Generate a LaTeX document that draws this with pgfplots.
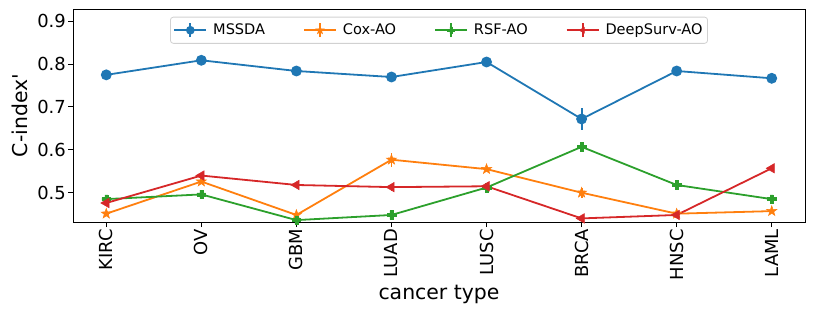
\documentclass[border=0pt]{standalone}
\usepackage{fontspec}
\setmainfont{DejaVu Sans}
\newfontfamily\plainfont{DejaVu Sans}
\usepackage{pgfplots}
\pgfplotsset{compat=1.18}
\definecolor{c0}{HTML}{1F77B4}
\definecolor{c1}{HTML}{FF7F0E}
\definecolor{c2}{HTML}{2CA02C}
\definecolor{c3}{HTML}{D62728}
\pgfdeclareplotmark{fstar}{%
  \pgfpathmoveto{\pgfpointpolar{90}{1.25\pgfplotmarksize}}%
  \pgfpathlineto{\pgfpointpolar{126}{0.5\pgfplotmarksize}}%
  \pgfpathlineto{\pgfpointpolar{162}{1.25\pgfplotmarksize}}%
  \pgfpathlineto{\pgfpointpolar{198}{0.5\pgfplotmarksize}}%
  \pgfpathlineto{\pgfpointpolar{234}{1.25\pgfplotmarksize}}%
  \pgfpathlineto{\pgfpointpolar{270}{0.5\pgfplotmarksize}}%
  \pgfpathlineto{\pgfpointpolar{306}{1.25\pgfplotmarksize}}%
  \pgfpathlineto{\pgfpointpolar{342}{0.5\pgfplotmarksize}}%
  \pgfpathlineto{\pgfpointpolar{18}{1.25\pgfplotmarksize}}%
  \pgfpathlineto{\pgfpointpolar{54}{0.5\pgfplotmarksize}}%
  \pgfpathclose\pgfusepathqfillstroke}
\pgfdeclareplotmark{fplus}{%
  \pgfpathmoveto{\pgfqpoint{0.35\pgfplotmarksize}{\pgfplotmarksize}}%
  \pgfpathlineto{\pgfqpoint{-0.35\pgfplotmarksize}{\pgfplotmarksize}}%
  \pgfpathlineto{\pgfqpoint{-0.35\pgfplotmarksize}{0.35\pgfplotmarksize}}%
  \pgfpathlineto{\pgfqpoint{-\pgfplotmarksize}{0.35\pgfplotmarksize}}%
  \pgfpathlineto{\pgfqpoint{-\pgfplotmarksize}{-0.35\pgfplotmarksize}}%
  \pgfpathlineto{\pgfqpoint{-0.35\pgfplotmarksize}{-0.35\pgfplotmarksize}}%
  \pgfpathlineto{\pgfqpoint{-0.35\pgfplotmarksize}{-\pgfplotmarksize}}%
  \pgfpathlineto{\pgfqpoint{0.35\pgfplotmarksize}{-\pgfplotmarksize}}%
  \pgfpathlineto{\pgfqpoint{0.35\pgfplotmarksize}{-0.35\pgfplotmarksize}}%
  \pgfpathlineto{\pgfqpoint{\pgfplotmarksize}{-0.35\pgfplotmarksize}}%
  \pgfpathlineto{\pgfqpoint{\pgfplotmarksize}{0.35\pgfplotmarksize}}%
  \pgfpathlineto{\pgfqpoint{0.35\pgfplotmarksize}{0.35\pgfplotmarksize}}%
  \pgfpathclose\pgfusepathqfillstroke}
\pgfplotsset{
  errleg/.style={legend image code/.code={%
    \draw[##1,mark=none] (0bp,0bp) -- (32bp,0bp);
    \draw[##1,mark=none] (16bp,-7bp) -- (16bp,7bp);
    \path[##1,mark size=3.4bp] plot coordinates {(16bp,0bp)};}},
}
\begin{document}
\begin{tikzpicture}
\begin{axis}[
  scale only axis,
  width=732bp, height=213bp,
  xmin=-0.35, xmax=7.35,
  ymin=0.4316, ymax=0.9287,
  xtick={0,1,2,3,4,5,6,7},
  xticklabels={KIRC,OV,GBM,LUAD,LUSC,BRCA,HNSC,LAML},
  ytick={0.5,0.6,0.7,0.8,0.9},
  yticklabel style={/pgf/number format/assume math mode=true,/pgf/number format/fixed,/pgf/number format/precision=1,/pgf/number format/fixed zerofill},
  ticklabel style={font=\fontsize{18}{20}\selectfont},
  xticklabel style={rotate=90, anchor=east, inner sep=2bp},
  yticklabel style={inner sep=2bp},
  tick align=outside,
  major tick length=5bp,
  tick style={black, line width=1bp},
  xtick pos=bottom, ytick pos=left,
  axis line style={black, line width=1bp},
  xlabel={cancer type},
  ylabel={C-index{\plainfont'}},
  label style={font=\fontsize{20.5}{23}\selectfont},
  x label style={at={(axis description cs:0.5,-0.366)}, anchor=base},
  y label style={at={(axis description cs:-0.0628,0.5)}, anchor=base, rotate=0},
  legend columns=4,
  legend style={at={(axis description cs:0.5,1)}, anchor=north, yshift=-7.7bp,
    font=\fontsize{14.6}{16}\selectfont, draw=black!18, rounded corners=3bp,
    line width=0.8bp, inner xsep=3bp, inner ysep=5bp,
    /tikz/every odd column/.append style={column sep=4bp},
    /tikz/every even column/.append style={column sep=36bp}},
  legend cell align=left,
  every axis plot/.append style={line width=1.8bp},
  error bars/error bar style={line width=1.8bp},
  error bars/error mark=none,
]
\addplot+[c0, mark=*, mark size=4.5bp, mark options={fill=c0, draw=c0}, errleg,
  error bars/.cd, y dir=both, y explicit]
  coordinates {(0,0.775)+-(0,0.004) (1,0.809)+-(0,0.004) (2,0.784)+-(0,0.004) (3,0.770)+-(0,0.004)
    (4,0.805)+-(0,0.004) (5,0.672)+-(0,0.026) (6,0.784)+-(0,0.004) (7,0.767)+-(0,0.004)};
\addlegendentry{MSSDA}
\addplot+[c1, mark=fstar, mark size=4.3bp, mark options={fill=c1, draw=c1, line width=0.5bp}, errleg,
  error bars/.cd, y dir=both, y explicit]
  coordinates {(0,0.451)+-(0,0.004) (1,0.526)+-(0,0.006) (2,0.448)+-(0,0.005) (3,0.577)+-(0,0.016)
    (4,0.555)+-(0,0.005) (5,0.500)+-(0,0.012) (6,0.451)+-(0,0.005) (7,0.457)+-(0,0.004)};
\addlegendentry{Cox-AO}
\addplot+[c2, mark=fplus, mark size=4.3bp, mark options={fill=c2, draw=c2, line width=0.5bp}, errleg,
  error bars/.cd, y dir=both, y explicit]
  coordinates {(0,0.485)+-(0,0.006) (1,0.496)+-(0,0.006) (2,0.436)+-(0,0.005) (3,0.448)+-(0,0.008)
    (4,0.512)+-(0,0.006) (5,0.607)+-(0,0.007) (6,0.518)+-(0,0.006) (7,0.485)+-(0,0.006)};
\addlegendentry{RSF-AO}
\addplot+[c3, mark=triangle*, mark size=5.5bp, mark options={fill=c3, draw=c3, rotate=90, line width=0.5bp}, errleg,
  error bars/.cd, y dir=both, y explicit]
  coordinates {(0,0.476)+-(0,0.006) (1,0.540)+-(0,0.005) (2,0.518)+-(0,0.005) (3,0.513)+-(0,0.008)
    (4,0.515)+-(0,0.006) (5,0.440)+-(0,0.005) (6,0.448)+-(0,0.006) (7,0.557)+-(0,0.005)};
\addlegendentry{DeepSurv-AO}
\end{axis}
\pgfresetboundingbox
\path ([xshift=-73bp,yshift=-97bp]current axis.south west) rectangle ([xshift=9bp,yshift=9bp]current axis.north east);
\end{tikzpicture}
\end{document}
